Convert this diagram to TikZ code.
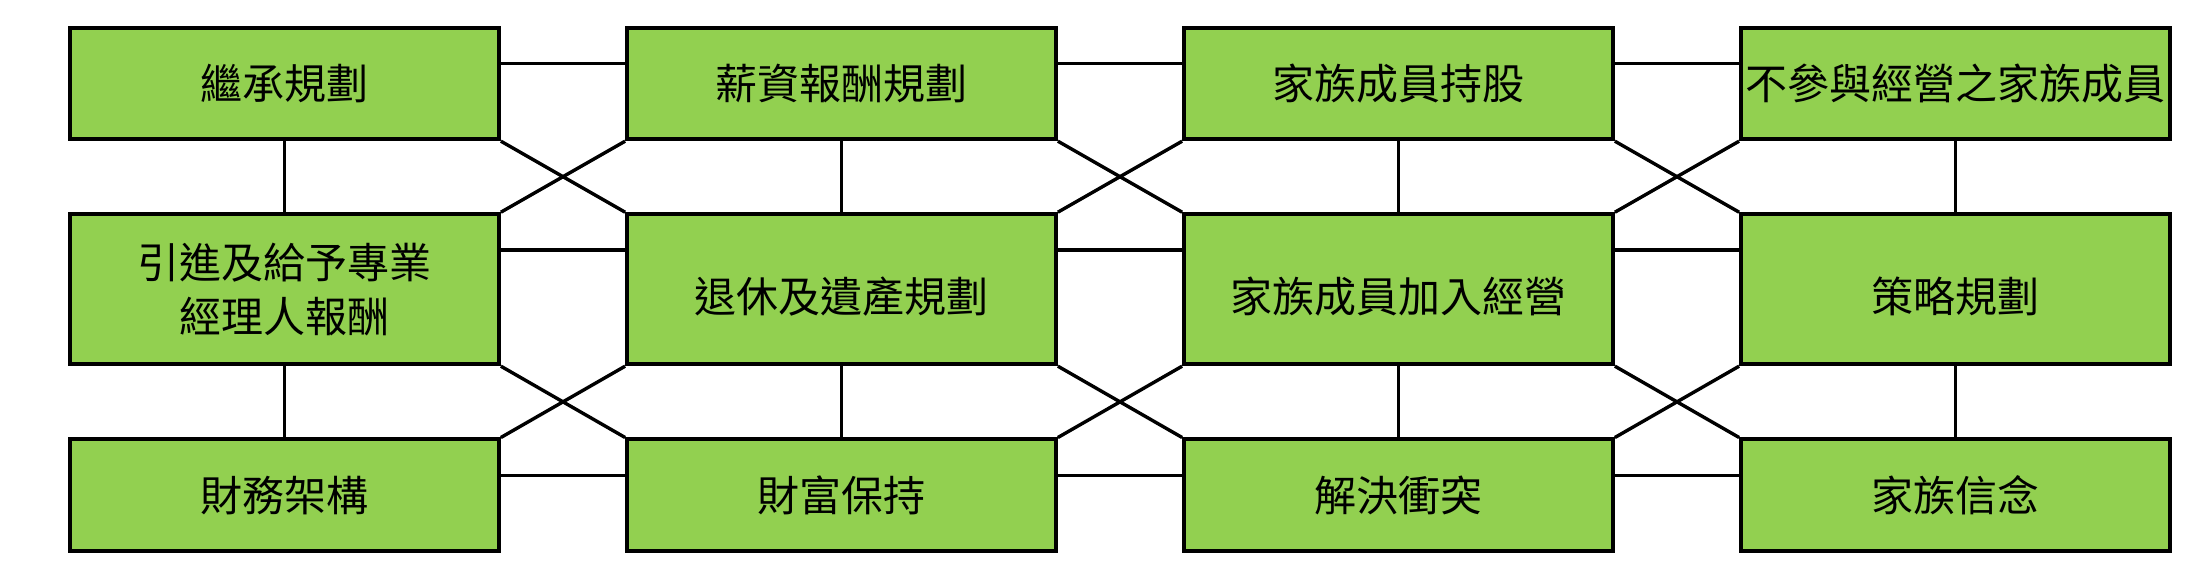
\documentclass[tikz,border=0pt]{standalone}
\usepackage{fontspec}
\setmainfont{Noto Sans CJK TC}
\usepackage{tikz}
\usetikzlibrary{calc}
\definecolor{boxgreen}{HTML}{92D050}
\tikzset{every picture/.style={line width=1.7pt},topic/.style={draw,line width=2pt,fill=boxgreen,minimum width=214.4pt,inner sep=1pt,align=center,font=\fontsize{21}{27}\selectfont}}

\begin{document}
\begin{tikzpicture}
\useasboundingbox (0,0) rectangle (1104pt,-294pt);
\foreach \c/\t in {1/繼承規劃, 2/薪資報酬規劃, 3/家族成員持股, 4/不參與經營之家族成員} {
\node (b1\c) at ($\c*(278.5pt,0)+(-136.25pt,-41.75pt)$) [topic,minimum height=55.7pt] {\t};
}
\node (b21) at (142.25pt,-144.6pt) [topic,minimum height=75pt] {引進及給予專業\\經理人報酬};
\foreach \c/\t in {2/退休及遺產規劃, 3/家族成員加入經營, 4/策略規劃} {
\node (b2\c) at ($\c*(278.5pt,0)+(-136.25pt,-144.6pt)$) [topic,minimum height=75pt] {\raisebox{-3.5pt}[\height][\depth]{\t}};
}
\foreach \c/\t in {1/財務架構, 2/財富保持, 3/解決衝突, 4/家族信念} {
\node (b3\c) at ($\c*(278.5pt,0)+(-136.25pt,-247.6pt)$) [topic,minimum height=55.7pt] {\t};
}
\foreach \c in {1, 2, 3, 4} {
\draw[-] (b1\c) -- (b2\c);
\draw[-] (b2\c) -- (b3\c);
}
\foreach \c/\d in {1/2,2/3,3/4} {
\foreach \r in {1, 2, 3} {
\draw[-] ($(b\r\c.north east)+(0,-19pt)$) -- ($(b\r\d.north west)+(0,-19pt)$);
}
\draw[-] (b1\c.south east) -- (b2\d.north west);
\draw[-] (b2\c.north east) -- (b1\d.south west);
\draw[-] (b2\c.south east) -- (b3\d.north west);
\draw[-] (b3\c.north east) -- (b2\d.south west);
}
\end{tikzpicture}
\end{document}
